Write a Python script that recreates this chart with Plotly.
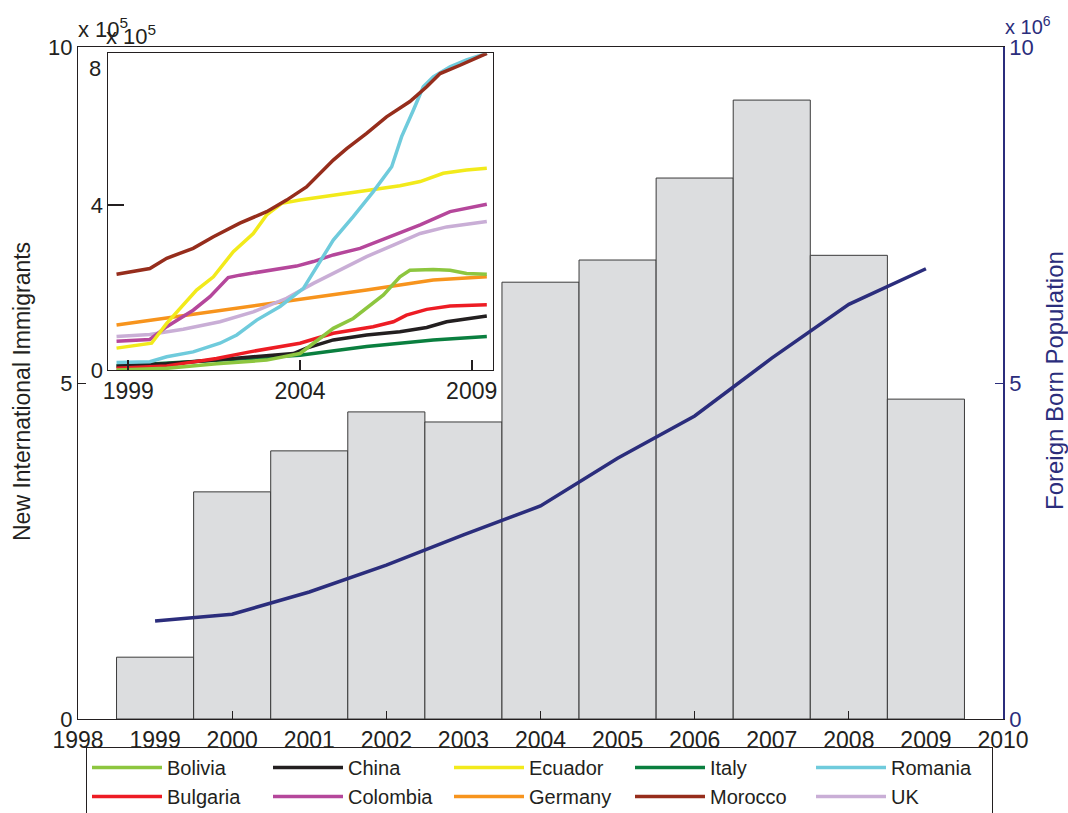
import plotly.graph_objects as go

# ---- main chart data ----
years = [1999, 2000, 2001, 2002, 2003, 2004, 2005, 2006, 2007, 2008, 2009]
new_immigrants = [0.92, 3.38, 3.99, 4.57, 4.42, 6.50, 6.83, 8.05, 9.21, 6.90, 4.76]      # x 10^5
foreign_born = [1.46, 1.56, 1.89, 2.29, 2.74, 3.17, 3.88, 4.51, 5.37, 6.17, 6.70]        # x 10^6
main_ticks_even = [1998, 2000, 2002, 2004, 2006, 2008, 2010]
main_ticks_odd = [1999, 2001, 2003, 2005, 2007, 2009]

# ---- inset data (x 10^5) ----
bolivia_t = [1998.66, 2000.12, 2001.57, 2003.03, 2004.0, 2004.97, 2005.55, 2006.43, 2006.91, 2007.2, 2007.88, 2008.37, 2008.85, 2009.44]
bolivia_v = [0.0, 0.04, 0.15, 0.24, 0.40, 1.01, 1.25, 1.82, 2.26, 2.42, 2.44, 2.42, 2.34, 2.32]
china_t = [1998.66, 2000.12, 2002.06, 2003.81, 2004.19, 2004.97, 2005.94, 2006.91, 2007.69, 2008.27, 2009.44]
china_v = [0.10, 0.15, 0.28, 0.40, 0.53, 0.73, 0.85, 0.93, 1.03, 1.17, 1.31]
ecuador_t = [1998.66, 1999.68, 2000.12, 2000.99, 2001.48, 2002.06, 2002.64, 2003.03, 2003.47, 2004.0, 2004.97, 2005.94, 2006.91, 2007.5, 2008.17, 2008.85, 2009.44]
ecuador_v = [0.53, 0.65, 1.13, 1.94, 2.26, 2.87, 3.31, 3.76, 4.04, 4.12, 4.24, 4.36, 4.47, 4.57, 4.77, 4.85, 4.89]
italy_t = [1998.66, 2000.12, 2002.06, 2004.0, 2005.94, 2007.88, 2009.44]
italy_v = [0.10, 0.16, 0.26, 0.36, 0.57, 0.73, 0.81]
romania_t = [1998.66, 1999.63, 2000.12, 2000.89, 2001.67, 2002.16, 2002.74, 2003.42, 2004.1, 2004.49, 2004.97, 2005.55, 2006.13, 2006.67, 2006.96, 2007.3, 2007.59, 2007.88, 2008.37, 2008.85, 2009.44]
romania_v = [0.18, 0.20, 0.32, 0.44, 0.65, 0.85, 1.21, 1.54, 1.98, 2.51, 3.15, 3.72, 4.32, 4.93, 5.66, 6.30, 6.87, 7.11, 7.35, 7.52, 7.68]
bulgaria_t = [1998.66, 2000.12, 2001.57, 2002.54, 2004.0, 2004.97, 2006.13, 2006.72, 2007.1, 2007.69, 2008.37, 2009.44]
bulgaria_v = [0.04, 0.10, 0.28, 0.44, 0.65, 0.89, 1.05, 1.17, 1.33, 1.47, 1.55, 1.58]
colombia_t = [1998.66, 1999.63, 2000.12, 2000.89, 2001.38, 2001.91, 2002.25, 2003.03, 2003.9, 2004.39, 2004.97, 2005.75, 2006.72, 2007.5, 2008.37, 2009.44]
colombia_v = [0.70, 0.74, 1.05, 1.45, 1.78, 2.24, 2.30, 2.40, 2.52, 2.63, 2.79, 2.95, 3.27, 3.52, 3.84, 4.02]
germany_t = [1998.66, 2001.09, 2004.0, 2005.94, 2007.88, 2009.44]
germany_v = [1.09, 1.37, 1.70, 1.94, 2.18, 2.26]
morocco_t = [1998.66, 1999.63, 2000.12, 2000.89, 2001.48, 2002.25, 2003.03, 2003.61, 2004.19, 2004.97, 2005.36, 2005.94, 2006.52, 2007.2, 2007.69, 2008.08, 2008.66, 2009.44]
morocco_v = [2.32, 2.46, 2.71, 2.95, 3.23, 3.56, 3.84, 4.12, 4.44, 5.09, 5.37, 5.74, 6.14, 6.51, 6.87, 7.19, 7.39, 7.68]
uk_t = [1998.66, 1999.63, 2000.6, 2001.67, 2002.64, 2003.61, 2004.39, 2005.17, 2005.94, 2006.72, 2007.5, 2008.27, 2009.44]
uk_v = [0.81, 0.86, 0.99, 1.17, 1.41, 1.74, 2.10, 2.42, 2.75, 3.03, 3.31, 3.47, 3.60]
inset_ticks = [1999, 2004, 2009]

# legend order: row 1 then row 2
series = [
    ("Bolivia", bolivia_t, bolivia_v, "#8dc63f"),
    ("China", china_t, china_v, "#231f20"),
    ("Ecuador", ecuador_t, ecuador_v, "#f2ea1b"),
    ("Italy", italy_t, italy_v, "#0a7f3f"),
    ("Romania", romania_t, romania_v, "#6fcbdc"),
    ("Bulgaria", bulgaria_t, bulgaria_v, "#ed1c24"),
    ("Colombia", colombia_t, colombia_v, "#b5479b"),
    ("Germany", germany_t, germany_v, "#f7941d"),
    ("Morocco", morocco_t, morocco_v, "#962d1c"),
    ("UK", uk_t, uk_v, "#c9aed6"),
]
draw_order = ["Germany", "UK", "Colombia", "Italy", "China", "Bulgaria", "Bolivia", "Ecuador", "Romania", "Morocco"]

NAVY = "#2b2d7c"
INK = "#231f20"
FONT = "Liberation Sans"

fig = go.Figure()

fig.add_trace(go.Bar(
    x=years, y=new_immigrants, width=1,
    marker=dict(color="#dcdddf", line=dict(color="#3a3a3a", width=1)),
    xaxis="x", yaxis="y", showlegend=False, hoverinfo="skip"))

fig.add_trace(go.Scatter(
    x=years, y=foreign_born, mode="lines",
    line=dict(color=NAVY, width=3.5),
    xaxis="x3", yaxis="y2", showlegend=False))

lookup = {s[0]: s for s in series}
legend_rank = {s[0]: i for i, s in enumerate(series)}
for name in draw_order:
    n, t, v, c = lookup[name]
    fig.add_trace(go.Scatter(
        x=t, y=v, mode="lines", name=n,
        line=dict(color=c, width=3.5),
        xaxis="x2", yaxis="y3", legendrank=legend_rank[n] + 1))

W, H = 1068, 813
L, R, T, B = 78, 65, 47, 94
pw, ph = W - L - R, H - T - B

def px_x(x):
    return (x - L) / pw

def px_y(y):
    return 1 - (y - T) / ph

xtick_font = dict(family=FONT, size=23, color=INK)
ytick_font = dict(family=FONT, size=22, color=INK)

fig.update_layout(
    width=W, height=H,
    margin=dict(l=L, r=R, t=T, b=B, autoexpand=False),
    paper_bgcolor="white", plot_bgcolor="white",
    font=dict(family=FONT, color=INK),
    barmode="overlay",
    xaxis=dict(range=[1998, 2010], tickvals=main_ticks_even, ticks="inside", ticklen=8,
               tickcolor=INK, showline=True, linecolor=INK, linewidth=1, mirror=True,
               showgrid=False, zeroline=False, tickfont=xtick_font),
    xaxis3=dict(range=[1998, 2010], overlaying="x", side="bottom", anchor="y2",
                tickvals=main_ticks_odd, ticks="inside", ticklen=8, tickcolor="rgba(0,0,0,0)",
                ticklabelstandoff=5,
                showline=False, showgrid=False, zeroline=False, tickfont=xtick_font),
    yaxis=dict(range=[0, 10], tickvals=[0, 5, 10], ticks="inside", ticklen=8, tickcolor=INK,
               showline=True, linecolor=INK, linewidth=1, mirror=False,
               showgrid=False, zeroline=False, tickfont=ytick_font),
    yaxis2=dict(range=[0, 10], tickvals=[0, 5, 10], overlaying="y", side="right", anchor="x3",
                ticks="inside", ticklen=8, tickcolor=NAVY, showline=True, linecolor=NAVY, linewidth=1.5,
                showgrid=False, zeroline=False, tickfont=dict(family=FONT, size=22, color=NAVY)),
    xaxis2=dict(domain=[px_x(108.3), px_x(493)], anchor="y3", range=[1998.42, 2009.62],
                tickvals=inset_ticks, ticks="inside", ticklen=10, tickwidth=1.5, tickcolor=INK,
                showline=True, linecolor=INK, linewidth=1, mirror=True,
                showgrid=False, zeroline=False, tickfont=xtick_font),
    yaxis3=dict(domain=[px_y(370), px_y(53.3)], anchor="x2", range=[0, 7.68],
                tickvals=[0, 4], ticks="inside", ticklen=16, tickcolor=INK, tickwidth=1.5,
                showline=True, linecolor=INK, linewidth=1, mirror=True,
                showgrid=False, zeroline=False, tickfont=ytick_font),
    legend=dict(orientation="h", x=px_x(86), y=px_y(747), xanchor="left", yanchor="top",
                entrywidth=96, entrywidthmode="pixels", traceorder="normal",
                bordercolor=INK, borderwidth=1, bgcolor="white",
                font=dict(family=FONT, size=20, color=INK), itemwidth=70),
)

annotations = [
    dict(text="x 10<sup>5</sup>", x=px_x(76), y=px_y(44), xref="paper", yref="paper",
         xanchor="left", yanchor="bottom", showarrow=False, font=dict(family=FONT, size=22, color=INK)),
    dict(text="x 10<sup>5</sup>", x=px_x(104), y=px_y(51), xref="paper", yref="paper",
         xanchor="left", yanchor="bottom", showarrow=False, font=dict(family=FONT, size=22, color=INK)),
    dict(text="x 10<sup>6</sup>", x=px_x(1003), y=px_y(40), xref="paper", yref="paper",
         xanchor="left", yanchor="bottom", showarrow=False, font=dict(family=FONT, size=20, color=NAVY)),
    dict(text="8", x=px_x(103), y=px_y(68), xref="paper", yref="paper",
         xanchor="right", yanchor="middle", showarrow=False, font=dict(family=FONT, size=22, color=INK)),
    dict(text="New International Immigrants", x=px_x(22), y=px_y(392), xref="paper", yref="paper",
         xanchor="center", yanchor="middle", textangle=-90, showarrow=False,
         font=dict(family=FONT, size=23, color=INK)),
    dict(text="Foreign Born Population", x=px_x(1054), y=px_y(381), xref="paper", yref="paper",
         xanchor="center", yanchor="middle", textangle=-90, showarrow=False,
         font=dict(family=FONT, size=24, color=NAVY)),
]
fig.update_layout(annotations=annotations)

fig.write_html("out.html", config={"displayModeBar": False},
               post_script="document.body.style.margin='0px';")
